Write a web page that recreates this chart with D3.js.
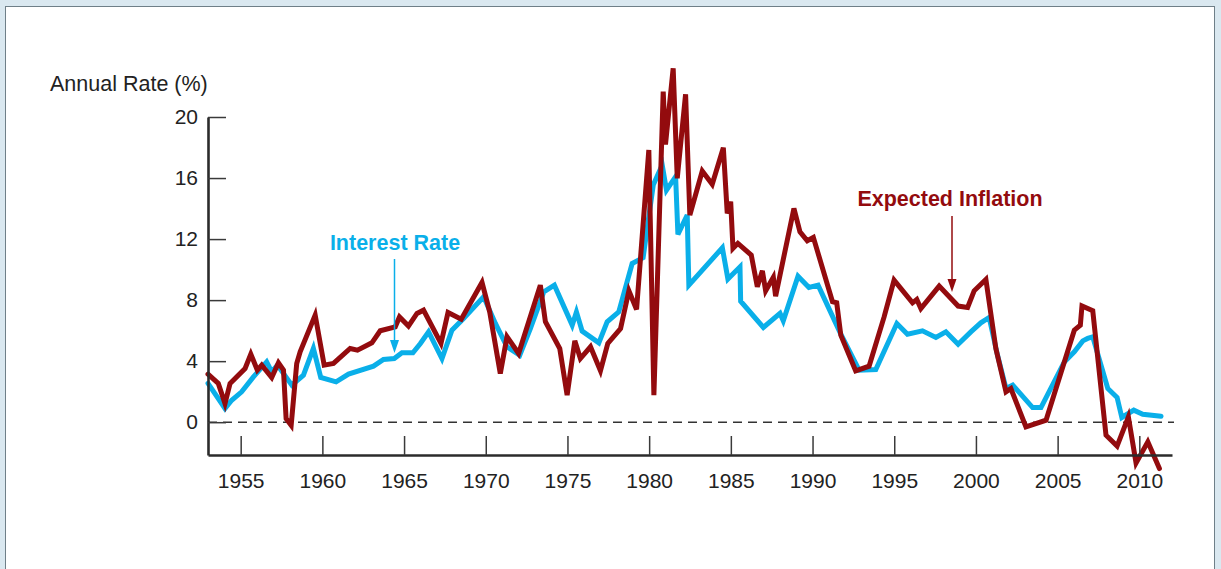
<!DOCTYPE html>
<html>
<head>
<meta charset="utf-8">
<script src="https://cdn.jsdelivr.net/npm/d3@7/dist/d3.min.js"></script>
<style>
  html, body { margin: 0; padding: 0; background: #dae8f0; }
  svg { display: block; }
  text { font-family: "Liberation Sans", Arial, Helvetica, sans-serif; }
</style>
</head>
<body>
<svg id="chart" width="1221" height="569"></svg>
<script>
// Interest rate (nominal, %)
const rateYears = [1953.0, 1954.04, 1954.45, 1955.06, 1955.78, 1956.59, 1956.90, 1957.25, 1958.13, 1958.84,
  1959.45, 1959.90, 1960.84, 1961.60, 1963.13, 1963.74, 1964.40, 1964.87, 1965.54, 1966.00,
  1966.50, 1967.32, 1967.93, 1968.64, 1969.87, 1970.59, 1971.30, 1972.08, 1972.73, 1973.55,
  1974.20, 1975.29, 1975.55, 1975.90, 1976.92, 1977.43, 1978.14, 1978.96, 1979.63, 1980.25,
  1980.80, 1981.06, 1981.62, 1981.76, 1982.33, 1982.43, 1984.48, 1984.82, 1985.56, 1985.60,
  1986.99, 1988.01, 1988.21, 1989.11, 1989.78, 1990.34, 1991.73, 1992.85, 1993.87, 1995.16,
  1995.81, 1996.73, 1997.55, 1998.16, 1998.91, 1999.69, 2000.30, 2000.81, 2001.32, 2001.84,
  2002.25, 2003.47, 2003.98, 2005.41, 2006.02, 2006.54, 2006.84, 2007.15, 2008.07, 2008.64,
  2008.93, 2009.66, 2010.21, 2011.33];
const rateValues = [2.54, 0.90, 1.44, 1.99, 2.97, 3.95, 3.30, 3.74, 2.43, 3.08,
  4.83, 2.93, 2.64, 3.15, 3.67, 4.11, 4.17, 4.55, 4.55, 5.16,
  5.92, 4.17, 6.03, 6.80, 8.22, 6.47, 4.94, 4.39, 6.14, 8.54,
  8.98, 6.36, 7.23, 5.97, 5.20, 6.58, 7.23, 10.40, 10.78, 15.54,
  16.85, 15.21, 16.09, 12.31, 13.57, 8.98, 11.43, 9.38, 10.18, 7.93,
  6.21, 7.13, 6.64, 9.57, 8.83, 8.98, 5.77, 3.41, 3.45, 6.47,
  5.77, 5.99, 5.55, 5.92, 5.11, 5.92, 6.51, 6.86, 4.39, 2.21,
  2.43, 0.96, 0.96, 3.95, 4.61, 5.33, 5.49, 5.59, 2.21, 1.62,
  0.31, 0.79, 0.52, 0.39];

// Expected inflation (%)
const inflYears = [1953.0, 1953.63, 1954.04, 1954.35, 1955.27, 1955.62, 1956.02, 1956.29, 1956.90, 1957.31,
  1957.62, 1957.78, 1958.09, 1958.43, 1958.64, 1959.56, 1960.11, 1960.68, 1961.70, 1962.15,
  1963.03, 1963.54, 1964.46, 1964.72, 1965.27, 1965.79, 1966.19, 1967.26, 1967.69, 1968.50,
  1969.77, 1970.24, 1970.89, 1971.30, 1972.01, 1973.34, 1973.65, 1974.53, 1974.98, 1975.45,
  1975.79, 1976.41, 1977.02, 1977.47, 1978.25, 1978.76, 1979.23, 1979.98, 1980.29, 1980.86,
  1981.00, 1981.47, 1981.72, 1982.23, 1982.49, 1983.25, 1983.86, 1984.54, 1984.78, 1984.99,
  1985.13, 1985.43, 1986.25, 1986.62, 1986.93, 1987.13, 1987.60, 1987.74, 1988.86, 1989.23,
  1989.68, 1990.05, 1991.22, 1991.48, 1991.73, 1992.64, 1993.46, 1994.38, 1994.99, 1996.12,
  1996.38, 1996.63, 1997.75, 1998.91, 1999.49, 1999.89, 2000.61, 2001.22, 2001.84, 2002.14,
  2003.06, 2004.29, 2006.02, 2006.39, 2006.49, 2007.15, 2007.96, 2008.64, 2009.33, 2009.80,
  2010.52, 2011.23];
const inflValues = [3.15, 2.54, 1.22, 2.54, 3.52, 4.46, 3.41, 3.74, 2.93, 3.89,
  3.41, 0.24, -0.20, 3.85, 4.61, 7.02, 3.74, 3.85, 4.83, 4.72,
  5.20, 5.99, 6.25, 6.90, 6.30, 7.13, 7.34, 5.16, 7.19, 6.75,
  9.16, 7.23, 3.19, 5.60, 4.50, 8.98, 6.58, 4.83, 1.77, 5.33,
  4.17, 4.94, 3.37, 5.16, 6.14, 8.61, 7.39, 17.84, 1.77, 21.66,
  18.20, 23.19, 15.98, 21.49, 13.57, 16.46, 15.59, 17.99, 13.68, 14.45,
  11.39, 11.72, 10.95, 8.87, 9.92, 8.61, 9.49, 8.26, 14.01, 12.48,
  11.89, 12.11, 7.89, 7.82, 5.70, 3.37, 3.67, 6.90, 9.31, 7.82,
  8.04, 7.45, 8.92, 7.61, 7.52, 8.61, 9.36, 4.83, 1.99, 2.21,
  -0.31, 0.13, 6.03, 6.36, 7.61, 7.30, -0.85, -1.57, 0.35, -2.67,
  -1.29, -3.04];

const yTicks = [0, 4, 8, 12, 16, 20];
const xTicks = [1955, 1960, 1965, 1970, 1975, 1980, 1985, 1990, 1995, 2000, 2005, 2010];

const svg = d3.select("#chart");

// white panel with thin frame
svg.append("rect")
  .attr("x", 5.5).attr("y", 6.5)
  .attr("width", 1209).attr("height", 600)
  .attr("fill", "#ffffff")
  .attr("stroke", "#6f7f88").attr("stroke-width", 1);

const x = d3.scaleLinear().domain([1953, 2012]).range([208, 1172]);
const y = d3.scaleLinear().domain([-2.15, 20]).range([455, 117]);

// zero reference line
svg.append("line")
  .attr("x1", x(1953)).attr("x2", 1174)
  .attr("y1", y(0)).attr("y2", y(0))
  .attr("stroke", "#333").attr("stroke-width", 1.5)
  .attr("stroke-dasharray", "9,6");

const line = d3.line()
  .x(d => x(d[0]))
  .y(d => y(d[1]));

const rateData = rateYears.map((t, i) => [t, rateValues[i]]);
const inflData = inflYears.map((t, i) => [t, inflValues[i]]);

svg.append("path")
  .datum(rateData)
  .attr("d", line)
  .attr("fill", "none")
  .attr("stroke", "#0aafe9")
  .attr("stroke-width", 5)
  .attr("stroke-linejoin", "miter")
  .attr("stroke-linecap", "round");

svg.append("path")
  .datum(inflData)
  .attr("d", line)
  .attr("fill", "none")
  .attr("stroke", "#930b0e")
  .attr("stroke-width", 5)
  .attr("stroke-linejoin", "miter")
  .attr("stroke-linecap", "round");

// axes
const yAxis = d3.axisLeft(y)
  .tickValues(yTicks)
  .tickFormat(d3.format("d"))
  .tickSizeInner(-18)
  .tickSizeOuter(0)
  .tickPadding(10);

const gy = svg.append("g")
  .attr("transform", `translate(${x(1953)},0)`)
  .call(yAxis);

const xAxis = d3.axisBottom(x)
  .tickValues(xTicks)
  .tickFormat(d3.format("d"))
  .tickSizeInner(-19)
  .tickSizeOuter(0)
  .tickPadding(18);

const gx = svg.append("g")
  .attr("transform", `translate(0,${y(-2.15)})`)
  .call(xAxis);

[gx, gy].forEach(g => {
  g.select(".domain").attr("stroke", "#2b2b2b").attr("stroke-width", 2.6);
  g.selectAll(".tick line").attr("stroke", "#3a3a3a").attr("stroke-width", 1.5);
  g.selectAll(".tick text")
    .attr("fill", "#222")
    .style("font-size", "21px")
    .style("font-family", "'Liberation Sans', Arial, Helvetica, sans-serif");
});

// axis title
svg.append("text")
  .attr("x", 50).attr("y", 91)
  .attr("fill", "#222")
  .style("font-size", "21.5px")
  .text("Annual Rate (%)");

// series labels with pointer arrows
function pointer(xPos, y1, y2, color) {
  svg.append("line")
    .attr("x1", xPos).attr("x2", xPos)
    .attr("y1", y1).attr("y2", y2 - 12)
    .attr("stroke", color).attr("stroke-width", 1.5);
  svg.append("path")
    .attr("d", `M${xPos - 4.5},${y2 - 13} L${xPos + 4.5},${y2 - 13} L${xPos},${y2} Z`)
    .attr("fill", color);
}

svg.append("text")
  .attr("x", 395).attr("y", 250)
  .attr("text-anchor", "middle")
  .attr("fill", "#0aafe9")
  .style("font-size", "21.5px")
  .style("font-weight", "bold")
  .text("Interest Rate");
pointer(394.5, 259, 353, "#0aafe9");

svg.append("text")
  .attr("x", 950).attr("y", 206)
  .attr("text-anchor", "middle")
  .attr("fill", "#930b0e")
  .style("font-size", "21.5px")
  .style("font-weight", "bold")
  .text("Expected Inflation");
pointer(952, 216, 292, "#930b0e");
</script>
</body>
</html>
